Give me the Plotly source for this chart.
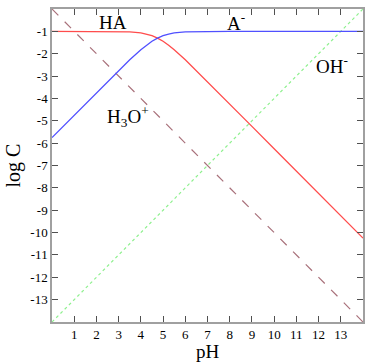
import plotly.graph_objects as go

ph = [0, 1, 2, 3, 3.5, 4, 4.25, 4.5, 4.75, 5, 5.25, 5.5, 6, 6.5, 7, 8, 9, 10, 11, 12, 13, 14]
log_ha = [-1.0, -1.0, -1.0, -1.01, -1.02, -1.07, -1.12, -1.19, -1.30, -1.44, -1.62, -1.82, -2.27, -2.76, -3.25,
          -4.25, -5.25, -6.25, -7.25, -8.25, -9.25, -10.25]
log_a = [-5.75, -4.75, -3.75, -2.76, -2.27, -1.82, -1.62, -1.44, -1.30, -1.19, -1.12, -1.07, -1.02, -1.01, -1.0,
         -1.0, -1.0, -1.0, -1.0, -1.0, -1.0, -1.0]
ph_ends = [0, 14]
log_h3o = [0, -14]
log_oh = [-14, 0]

xticks = list(range(1, 14))
yticks = list(range(-1, -14, -1))

serif = "Liberation Serif"

fig = go.Figure()
fig.add_trace(go.Scatter(x=ph_ends, y=log_oh, mode="lines",
                         line=dict(color="#8ef08e", width=1.2, dash="dot")))
fig.add_trace(go.Scatter(x=ph_ends, y=log_h3o, mode="lines",
                         line=dict(color="#a8707a", width=1.2, dash="dash")))
fig.add_trace(go.Scatter(x=ph, y=log_ha, mode="lines", line=dict(color="#ff4c4c", width=1.3)))
fig.add_trace(go.Scatter(x=ph, y=log_a, mode="lines", line=dict(color="#5050ff", width=1.3)))

ann = dict(font=dict(family=serif, size=19, color="black"), showarrow=False)
fig.add_annotation(x=2.73, y=-0.6, text="HA", **ann)
fig.add_annotation(x=8.27, y=-0.6, text="A<sup>-</sup>", **ann)
fig.add_annotation(x=12.6, y=-2.5, text="OH<sup>-</sup>", **ann)
fig.add_annotation(x=3.4, y=-4.8, text="H<sub>3</sub>O<sup>+</sup>", **ann)

axis_common = dict(showgrid=False, zeroline=False, showline=True, linecolor="#a0a0a0", linewidth=1.5,
                   mirror="ticks", ticks="inside", ticklen=6, tickcolor="#505050", tickwidth=1.3,
                   tickfont=dict(family=serif, size=13, color="black"))
fig.update_xaxes(range=[0, 14], tickvals=xticks, ticktext=[str(v) for v in xticks],
                 title=dict(text="pH", font=dict(family=serif, size=19, color="black"), standoff=4),
                 **axis_common)
fig.update_yaxes(range=[-14, 0], tickvals=yticks, ticktext=[str(v) for v in yticks],
                 title=dict(text="log C", font=dict(family=serif, size=20, color="black"), standoff=4),
                 **axis_common)

fig.update_layout(width=367, height=362, margin=dict(l=52, r=2, t=9, b=38),
                  plot_bgcolor="white", paper_bgcolor="white", showlegend=False)
fig.write_html("out.html")
